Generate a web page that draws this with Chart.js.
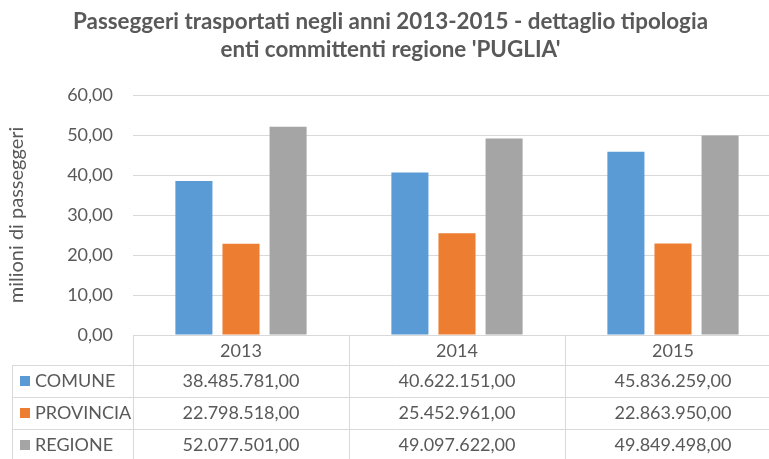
<!DOCTYPE html>
<html>
<head>
<meta charset="utf-8">
<script src="https://cdn.jsdelivr.net/npm/chart.js@4.4.1/dist/chart.umd.min.js"></script>
<style>
html,body{margin:0;padding:0;background:#fff;overflow:hidden;width:769px;height:459px;}
#wrap{position:relative;width:781px;height:459px;}
</style>
</head>
<body>
<div id="wrap"><canvas id="c" width="781" height="459"></canvas></div>
<script>
const categories = ['2013', '2014', '2015'];
const seriesNames = ['COMUNE', 'PROVINCIA', 'REGIONE'];
const comune = [38485781, 40622151, 45836259];
const provincia = [22798518, 25452961, 22863950];
const regione = [52077501, 49097622, 49849498];
const colors = ['#5B9BD5', '#ED7D31', '#A5A5A5'];
const rawSeries = [comune, provincia, regione];

const TEXT = '#595959';
const LINE = '#D9D9D9';
const FONT = 'Lato, "Open Sans", sans-serif';

function fmtIt(v, dec) {
  const s = v.toFixed(dec);
  const parts = s.split('.');
  const intPart = parts[0].replace(/\B(?=(\d{3})+(?!\d))/g, '.');
  return dec > 0 ? intPart + ',' + parts[1] : intPart;
}

const tablePlugin = {
  id: 'dataTable',
  afterDraw(chart) {
    const ctx = chart.ctx;
    const xs = chart.scales.x;
    const area = chart.chartArea;
    const n = categories.length;
    const cw = (xs.right - xs.left) / n;
    const y0 = area.bottom;
    const rows = [y0 + 30, y0 + 62, y0 + 94];
    const tableLeft = 12;
    const right = chart.width;
    const bottom = chart.height;
    ctx.save();
    ctx.strokeStyle = LINE;
    ctx.lineWidth = 1;
    ctx.beginPath();
    ctx.moveTo(xs.left, y0 + 0.5); ctx.lineTo(right, y0 + 0.5);
    rows.forEach(r => { ctx.moveTo(tableLeft, r + 0.5); ctx.lineTo(right, r + 0.5); });
    ctx.moveTo(tableLeft + 0.5, rows[0]); ctx.lineTo(tableLeft + 0.5, bottom);
    for (let i = 0; i <= n; i++) {
      const x = Math.round(xs.left + i * cw) + 0.5;
      ctx.moveTo(x, y0); ctx.lineTo(x, bottom);
    }
    ctx.stroke();

    ctx.font = '18px ' + FONT;
    ctx.textBaseline = 'middle';
    rawSeries.forEach((ser, si) => {
      const cy = rows[si] + 16;
      ctx.fillStyle = colors[si];
      ctx.fillRect(20, cy - 5, 10, 10);
      ctx.fillStyle = TEXT;
      ctx.textAlign = 'left';
      ctx.fillText(seriesNames[si], 35, cy);
      ctx.textAlign = 'center';
      ser.forEach((v, ci) => {
        ctx.fillText(fmtIt(v, 2), xs.getPixelForValue(ci), cy);
      });
    });
    ctx.restore();
  }
};

new Chart(document.getElementById('c'), {
  type: 'bar',
  data: {
    labels: categories,
    datasets: rawSeries.map((ser, i) => ({
      label: seriesNames[i],
      data: ser.map(v => v / 1e6),
      backgroundColor: colors[i],
      borderWidth: 0,
      categoryPercentage: 0.654,
      barPercentage: 0.787
    }))
  },
  options: {
    responsive: false,
    devicePixelRatio: 1,
    animation: false,
    layout: { padding: { left: 0, right: 0, top: 0, bottom: 0 } },
    plugins: {
      legend: { display: false },
      tooltip: { enabled: false },
      title: {
        display: true,
        text: ["Passeggeri trasportati negli anni 2013-2015 - dettaglio tipologia", "enti committenti regione 'PUGLIA'"],
        color: TEXT,
        font: { family: FONT, size: 22.4, weight: 'bold', lineHeight: 1.25 },
        padding: { top: 8, bottom: 31 }
      }
    },
    scales: {
      x: {
        grid: { display: false, drawTicks: false },
        border: { display: false },
        ticks: { color: TEXT, font: { family: FONT, size: 18 }, padding: 5 },
        afterFit(scale) { scale.height = 124; }
      },
      y: {
        min: 0, max: 60,
        ticks: {
          stepSize: 10, color: TEXT, font: { family: FONT, size: 18 }, padding: 20,
          callback: v => fmtIt(v, 2)
        },
        grid: { color: LINE, drawTicks: false },
        border: { display: false },
        title: {
          display: true, text: 'milioni di passeggeri', color: TEXT,
          font: { family: FONT, size: 20 }, padding: { top: 5, bottom: 0 }
        },
        afterFit(scale) { scale.width = 133; }
      }
    }
  },
  plugins: [tablePlugin]
});
</script>
</body>
</html>
